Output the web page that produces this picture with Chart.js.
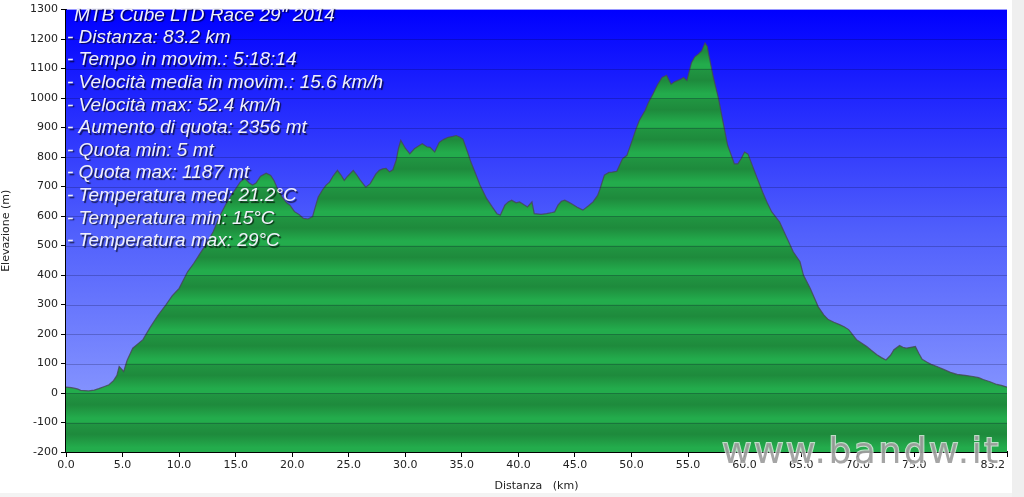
<!DOCTYPE html>
<html>
<head>
<meta charset="utf-8">
<script src="https://cdn.jsdelivr.net/npm/chart.js@4.4.1/dist/chart.umd.min.js"></script>
<style>
  html, body { margin: 0; padding: 0; background: #fff; }
  #wrap { position: relative; width: 1024px; height: 497px; }
  #strip { position: absolute; left: 1012px; top: 0; width: 12px; height: 497px; background: #efefef; }
  #bottomline { position: absolute; left: 0; top: 493px; width: 1012px; height: 4px; background: #f3f3f3; }
</style>
</head>
<body>
<div id="wrap">
  <canvas id="profile" width="1024" height="497"></canvas>
  <div id="strip"></div>
  <div id="bottomline"></div>
</div>
<script>
var distanza = [0.0, 0.5, 1.0, 1.3, 2.0, 2.5, 2.9, 3.4, 3.8, 4.2, 4.5, 4.7, 5.1, 5.4, 5.9, 6.3, 6.8, 7.4, 8.1, 8.85,
  9.4, 10.0, 10.75, 11.3, 11.8, 12.4, 13.0, 13.6, 14.2, 15.0, 15.4, 15.8, 16.2, 16.5, 16.8, 17.2, 17.7, 18.1, 18.4, 18.7,
  19.1, 19.5, 19.8, 20.2, 20.6, 21.0, 21.4, 21.8, 22.0, 22.3, 22.7, 23.0, 23.3, 23.6, 24.0, 24.3, 24.6, 24.9, 25.4, 25.7,
  26.0, 26.5, 26.9, 27.4, 27.7, 28.0, 28.3, 28.6, 28.9, 29.2, 29.4, 29.6, 30.0, 30.4, 30.8, 31.2, 31.5, 31.9, 32.2, 32.6,
  33.0, 33.4, 33.8, 34.2, 34.5, 34.8, 35.1, 35.5, 35.8, 36.2, 36.6, 37.2, 37.7, 38.1, 38.4, 38.8, 39.1, 39.4, 39.8, 40.1,
  40.5, 40.8, 41.2, 41.4, 42.0, 42.5, 43.0, 43.2, 43.5, 43.8, 44.1, 44.4, 44.7, 45.2, 45.7, 46.2, 46.6, 47.0, 47.2, 47.6,
  48.0, 48.3, 48.7, 49.2, 49.6, 49.8, 50.1, 50.4, 50.7, 51.2, 51.5, 51.9, 52.3, 52.7, 53.1, 53.5, 53.8, 54.1, 54.4, 54.6,
  54.9, 55.3, 55.6, 55.9, 56.2, 56.5, 56.7, 56.8, 57.2, 57.7, 58.1, 58.5, 59.1, 59.4, 59.7, 60.0, 60.3, 60.8, 61.2, 61.6,
  62.0, 62.4, 63.1, 63.7, 64.3, 64.9, 65.2, 65.8, 66.5, 67.0, 67.4, 67.9, 68.4, 68.8, 69.2, 69.9, 70.4, 70.8, 71.2, 71.7,
  72.1, 72.5, 72.9, 73.2, 73.7, 74.0, 74.3, 74.7, 75.1, 75.4, 75.7, 76.1, 76.5, 77.0, 77.6, 78.2, 78.8, 79.5, 80.2, 80.7,
  81.1, 81.7, 82.3, 82.7, 83.2];
var quota = [20, 18, 14, 9, 7, 10, 15, 22, 28, 42, 60, 90, 73, 110, 152, 165, 181, 220, 262, 300,
  330, 355, 411, 440, 470, 505, 546, 600, 645, 692, 715, 728, 712, 705, 712, 735, 745, 738, 720, 693,
  665, 645, 637, 615, 605, 592, 590, 598, 625, 665, 690, 705, 715, 735, 755, 740, 721, 735, 755, 740,
  723, 698, 710, 743, 755, 760, 762, 750, 757, 790, 830, 857, 830, 811, 828, 838, 845, 835, 833, 817,
  850, 860, 867, 870, 873, 868, 861, 817, 783, 745, 705, 659, 630, 608, 603, 637, 648, 654, 645, 648,
  638, 631, 648, 608, 606, 608, 612, 614, 637, 650, 654, 648, 642, 630, 620, 635, 648, 670, 690, 739,
  748, 749, 752, 794, 806, 828, 861, 895, 925, 958, 985, 1014, 1045, 1070, 1077, 1047, 1055, 1060, 1065, 1070,
  1060, 1120, 1140, 1149, 1160, 1187, 1175, 1154, 1077, 997, 918, 840, 777, 777, 795, 817, 810, 760, 720, 681,
  645, 614, 580, 529, 479, 445, 400, 355, 293, 265, 249, 240, 232, 225, 215, 181, 168, 158, 145, 130,
  120, 112, 128, 147, 161, 155, 152, 155, 158, 135, 114, 105, 97, 90, 80, 70, 63, 60, 56, 52,
  46, 38, 29, 26, 20];

var xTicks = [0, 5, 10, 15, 20, 25, 30, 35, 40, 45, 50, 55, 60, 65, 70, 75, 83.2];
var yMin = -200, yMax = 1300, yStep = 100;

var infoTitle = 'MTB Cube LTD Race 29" 2014';
var infoLines = [
  '- Distanza: 83.2 km',
  '- Tempo in movim.: 5:18:14',
  '- Velocità media in movim.: 15.6 km/h',
  '- Velocità max: 52.4 km/h',
  '- Aumento di quota: 2356 mt',
  '- Quota min: 5 mt',
  '- Quota max: 1187 mt',
  '- Temperatura med: 21.2°C',
  '- Temperatura min: 15°C',
  '- Temperatura max: 29°C'
];
var watermark = 'www.bandw.it';

var points = distanza.map(function (d, i) { return { x: d, y: quota[i] }; });

// sfondo blu sfumato
var bgPlugin = {
  id: 'bg',
  beforeDatasetsDraw: function (chart) {
    var a = chart.chartArea, ctx = chart.ctx;
    var g = ctx.createLinearGradient(0, a.top, 0, a.bottom);
    g.addColorStop(0, 'rgb(0,0,255)');
    g.addColorStop(0.5, 'rgb(80,95,252)');
    g.addColorStop(1, 'rgb(150,165,255)');
    ctx.save();
    ctx.fillStyle = g;
    ctx.fillRect(a.left, a.top, a.right - a.left, a.bottom - a.top);
    ctx.restore();
  }
};

// linee orizzontali sopra il riempimento, testo e filigrana
var overPlugin = {
  id: 'over',
  afterDatasetsDraw: function (chart) {
    var a = chart.chartArea, ctx = chart.ctx, ys = chart.scales.y;
    ctx.save();
    ctx.lineWidth = 1;
    for (var v = yMin + yStep; v < yMax; v += yStep) {
      var py = Math.round(ys.getPixelForValue(v)) + 0.5;
      ctx.strokeStyle = 'rgba(0,0,40,0.22)';
      ctx.beginPath();
      ctx.moveTo(a.left, py);
      ctx.lineTo(a.right, py);
      ctx.stroke();
    }
    ctx.restore();
  },
  afterDraw: function (chart) {
    var a = chart.chartArea, ctx = chart.ctx, xs = chart.scales.x;
    ctx.save();
    ctx.font = 'italic 19px "Liberation Sans", Arial, sans-serif';
    ctx.textBaseline = 'middle';
    ctx.fillStyle = '#f0f0fa';
    ctx.shadowColor = 'rgba(0,0,0,0.65)';
    ctx.shadowOffsetX = 1.5;
    ctx.shadowOffsetY = 1.5;
    ctx.shadowBlur = 1;
    ctx.fillText(infoTitle, a.left + 8, a.top + 6);
    infoLines.forEach(function (t, i) {
      ctx.fillText(t, a.left + 1, a.top + 28 + i * 22.6);
    });
    ctx.restore();

    // ultima etichetta asse x allineata a destra
    ctx.save();
    ctx.font = '11px "DejaVu Sans", Verdana, sans-serif';
    ctx.fillStyle = '#222';
    ctx.textAlign = 'right';
    ctx.textBaseline = 'top';
    ctx.fillText('83.2', xs.getPixelForValue(83.2) - 2, a.bottom + 8);
    ctx.restore();

    ctx.save();
    ctx.font = '36px "DejaVu Sans", Verdana, sans-serif';
    ctx.letterSpacing = '2.5px';
    ctx.textAlign = 'left';
    ctx.textBaseline = 'alphabetic';
    ctx.lineWidth = 2;
    ctx.strokeStyle = 'rgba(255,255,255,0.7)';
    ctx.strokeText(watermark, 722, 463);
    ctx.fillStyle = 'rgba(155,155,155,0.9)';
    ctx.fillText(watermark, 722, 463);
    ctx.restore();
  }
};

function greenBands(context) {
  var chart = context.chart;
  var a = chart.chartArea;
  if (!a) return '#22a045';
  var ys = chart.scales.y, ctx = chart.ctx;
  var g = ctx.createLinearGradient(0, a.top, 0, a.bottom);
  var h = a.bottom - a.top;
  for (var v = yMax; v > yMin; v -= yStep) {
    var t0 = (ys.getPixelForValue(v) - a.top) / h;
    var t1 = (ys.getPixelForValue(v - yStep) - a.top) / h;
    var d = t1 - t0;
    g.addColorStop(Math.max(0, t0 + 0.001), 'rgb(33,150,66)');
    g.addColorStop(t0 + d * 0.4, 'rgb(30,138,60)');
    g.addColorStop(t0 + d * 0.85, 'rgb(35,172,76)');
    g.addColorStop(Math.min(1, t1 - 0.001), 'rgb(35,172,76)');
  }
  return g;
}

var ctx = document.getElementById('profile').getContext('2d');
var chart = new Chart(ctx, {
  type: 'line',
  data: {
    datasets: [{
      data: points,
      fill: 'start',
      backgroundColor: greenBands,
      borderColor: 'rgba(70,70,85,0.8)',
      borderWidth: 1.2,
      pointRadius: 0,
      tension: 0
    }]
  },
  plugins: [bgPlugin, overPlugin],
  options: {
    responsive: false,
    animation: false,
    layout: { padding: { top: 7, right: 17, left: 0, bottom: 0 } },
    plugins: { legend: { display: false }, tooltip: { enabled: false } },
    scales: {
      x: {
        type: 'linear',
        min: 0,
        max: 83.2,
        afterBuildTicks: function (scale) {
          scale.ticks = xTicks.map(function (v) { return { value: v }; });
        },
        afterFit: function (scale) { scale.height = 45; },
        ticks: {
          autoSkip: false,
          maxRotation: 0,
          padding: 2,
          color: '#222',
          font: { family: '"DejaVu Sans", Verdana, sans-serif', size: 11 },
          callback: function (v) { return v === 83.2 ? '' : v.toFixed(1); }
        },
        grid: { drawOnChartArea: false, tickColor: '#000', tickLength: 5 },
        border: { color: '#000', width: 2 },
        title: {
          display: true,
          text: 'Distanza   (km)',
          color: '#222',
          padding: { top: 2 },
          font: { family: '"DejaVu Sans", Verdana, sans-serif', size: 11 }
        }
      },
      y: {
        min: yMin,
        max: yMax,
        afterFit: function (scale) { scale.width = 66; },
        ticks: {
          stepSize: yStep,
          padding: 3,
          color: '#222',
          font: { family: '"DejaVu Sans", Verdana, sans-serif', size: 11 },
          callback: function (v) { return String(v); }
        },
        grid: { drawOnChartArea: false, tickColor: '#000', tickLength: 5 },
        border: { color: '#000', width: 2 },
        title: {
          display: true,
          text: 'Elevazione (m)',
          color: '#222',
          padding: 0,
          font: { family: '"DejaVu Sans", Verdana, sans-serif', size: 11 }
        }
      }
    }
  }
});
</script>
</body>
</html>
